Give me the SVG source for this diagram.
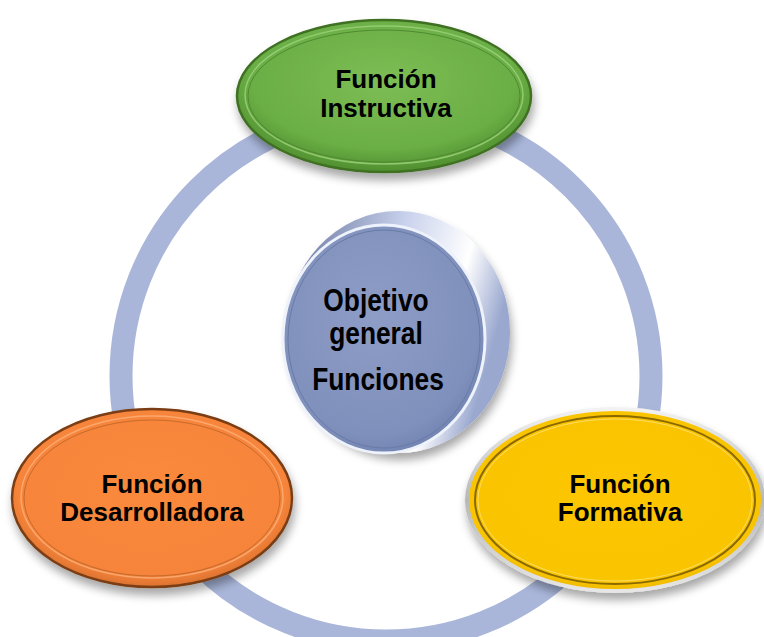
<svg xmlns="http://www.w3.org/2000/svg" width="764" height="637" viewBox="0 0 764 637">
<defs>
<style>
.lbl{font-family:"Liberation Sans",Arial,sans-serif;font-weight:bold;font-size:26px;fill:#000;text-anchor:middle}
.ctr{font-family:"Liberation Sans",Arial,sans-serif;font-weight:bold;font-size:31px;fill:#000;text-anchor:middle}
</style>
<filter id="sh" x="-20%" y="-20%" width="140%" height="150%">
<feGaussianBlur in="SourceAlpha" stdDeviation="5"/>
<feOffset dx="2" dy="7" result="b"/>
<feComponentTransfer><feFuncA type="linear" slope="0.35"/></feComponentTransfer>
<feMerge><feMergeNode/><feMergeNode in="SourceGraphic"/></feMerge>
</filter>
<radialGradient id="gG" cx="50%" cy="40%" r="60%">
<stop offset="0" stop-color="#7dbd55"/><stop offset="0.75" stop-color="#6aae45"/><stop offset="1" stop-color="#4f8e2f"/>
</radialGradient>
<radialGradient id="gO" cx="50%" cy="45%" r="60%">
<stop offset="0" stop-color="#fb8a3c"/><stop offset="0.8" stop-color="#f6843a"/><stop offset="1" stop-color="#c8652a"/>
</radialGradient>
<radialGradient id="gY" cx="50%" cy="45%" r="60%">
<stop offset="0" stop-color="#fdc600"/><stop offset="0.85" stop-color="#f9c400"/><stop offset="1" stop-color="#e0a800"/>
</radialGradient>
<radialGradient id="gC" cx="45%" cy="40%" r="65%">
<stop offset="0" stop-color="#8e9dc6"/><stop offset="0.8" stop-color="#7f90bc"/><stop offset="1" stop-color="#6d7fae"/>
</radialGradient>
<linearGradient id="gRim" x1="0" y1="0" x2="1" y2="0.3">
<stop offset="0" stop-color="#5c6b96"/><stop offset="0.5" stop-color="#c9d2ec"/><stop offset="0.8" stop-color="#ffffff"/><stop offset="1" stop-color="#9aa8cf"/>
</linearGradient>
<linearGradient id="gSilver" x1="0" y1="0" x2="0" y2="1">
<stop offset="0" stop-color="#f2f2f2"/><stop offset="0.5" stop-color="#b8b8b8"/><stop offset="1" stop-color="#e6e6e6"/>
</linearGradient>
</defs>
<rect width="764" height="637" fill="#ffffff"/>
<g id="connectors">
<circle cx="386" cy="376" r="265" fill="none" stroke="#a9b6d9" stroke-width="23"/>
</g>
<g id="node-center">
<ellipse cx="398" cy="332" rx="112" ry="121" fill="url(#gRim)" filter="url(#sh)"/>
<ellipse cx="384" cy="339" rx="101" ry="114" fill="url(#gC)" stroke="#eef2fb" stroke-width="3"/>
<ellipse cx="384" cy="339" rx="96" ry="109" fill="none" stroke="#6a7aa6" stroke-width="1"/>
<text class="ctr" x="376" y="311" transform="translate(376 0) scale(0.85 1) translate(-376 0)">Objetivo</text>
<text class="ctr" x="376" y="344" transform="translate(376 0) scale(0.85 1) translate(-376 0)">general</text>
<text class="ctr" x="378" y="390" transform="translate(378 0) scale(0.85 1) translate(-378 0)">Funciones</text>
</g>
<g id="node-instructiva">
<ellipse cx="384" cy="96" rx="147" ry="76" fill="url(#gG)" stroke="#3f6f24" stroke-width="2.5" filter="url(#sh)"/>
<ellipse cx="384" cy="95" rx="139" ry="69" fill="none" stroke="#9ed27a" stroke-width="1.5" opacity="0.8"/>
<ellipse cx="384" cy="96" rx="136" ry="66" fill="none" stroke="#4f8a30" stroke-width="1"/>
<text class="lbl" x="386" y="88">Función</text>
<text class="lbl" x="386" y="117">Instructiva</text>
</g>
<g id="node-desarrolladora">
<ellipse cx="152" cy="498" rx="140" ry="89" fill="url(#gO)" stroke="#7a3d12" stroke-width="2.5" filter="url(#sh)"/>
<ellipse cx="152" cy="497" rx="131" ry="81" fill="none" stroke="#fcb07a" stroke-width="1.5" opacity="0.8"/>
<ellipse cx="152" cy="498" rx="128" ry="78" fill="none" stroke="#c76a2c" stroke-width="1"/>
<text class="lbl" x="152" y="493">Función</text>
<text class="lbl" x="152" y="521">Desarrolladora</text>
</g>
<g id="node-formativa">
<ellipse cx="615" cy="500" rx="148" ry="91" fill="url(#gY)" stroke="url(#gSilver)" stroke-width="4" filter="url(#sh)"/>
<ellipse cx="615" cy="500" rx="140" ry="84" fill="none" stroke="#8a6a00" stroke-width="2"/>
<ellipse cx="615" cy="500" rx="137" ry="81" fill="none" stroke="#ffe27a" stroke-width="1" opacity="0.8"/>
<text class="lbl" x="620" y="493">Función</text>
<text class="lbl" x="620" y="521">Formativa</text>
</g>
</svg>
